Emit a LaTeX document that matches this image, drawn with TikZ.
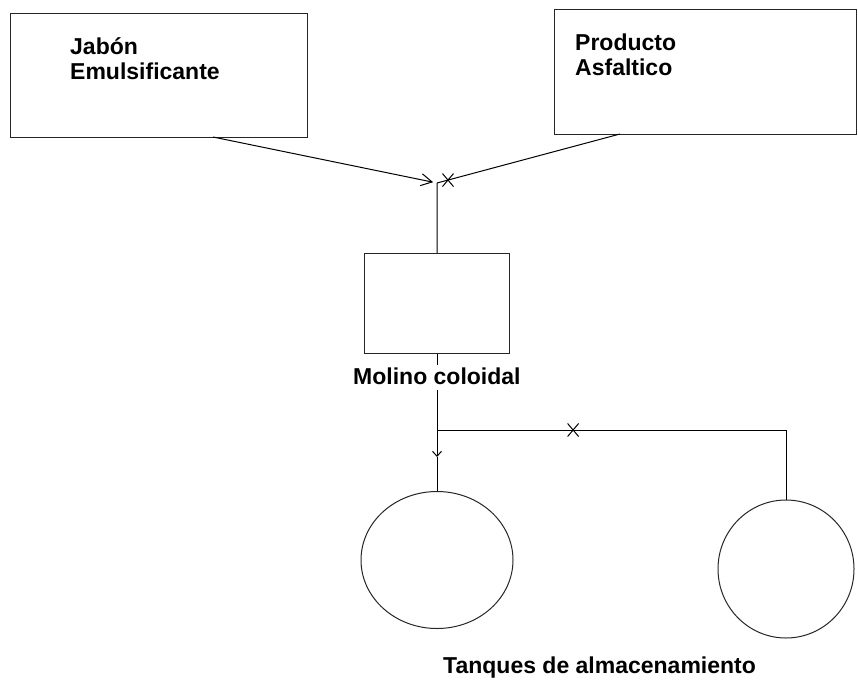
\documentclass[tikz,border=0pt]{standalone}
\usepackage{fontspec}
\setmainfont{Liberation Sans}
\usetikzlibrary{arrows.meta,shapes.misc,shapes.geometric}

\tikzset{
  caja/.style={draw=black!85, line width=1.1pt, anchor=north west},
  tanque/.style={draw=black!85, line width=1pt, ellipse},
  rotulo/.style={font=\fontsize{23}{26}\selectfont\bfseries, inner sep=0pt, align=left},
  linea/.style={line width=1pt},
  punta/.style={-{Straight Barb[length=11pt,width=12pt,line width=1pt]}},
  puntita/.style={-{Straight Barb[length=5pt,width=9pt,line width=1pt]}},
  cruz/.style={cross out, draw, line width=1pt, minimum width=10pt, minimum height=12pt, inner sep=0pt}
}

\begin{document}
\begin{tikzpicture}[x=1pt,y=-1pt]
\useasboundingbox (0,0) rectangle (858,680);

% cajas de entrada
\node[caja, minimum width=297pt, minimum height=124pt] (jabon) at (10,13) {};
\node[rotulo, anchor=base west] (jabontxt) at (70,54) {Jabón};
\node[rotulo, anchor=base west] (jabontxt2) at (70,79) {Emulsificante};
\node[caja, minimum width=302pt, minimum height=125pt] (asfalto) at (554,9) {};
\node[rotulo, anchor=base west] (asfaltotxt) at (575,50) {Producto};
\node[rotulo, anchor=base west] (asfaltotxt2) at (575,75) {Asfaltico};

% molino
\node[caja, minimum width=145pt, minimum height=100pt] (molino) at (364,253) {};
\node[rotulo, anchor=base west] (molinotxt) at (353,384) {Molino coloidal};

% tanques
\node[tanque, minimum width=152pt, minimum height=137pt] (tanque1) at (437,560) {};
\node[tanque, minimum width=136pt, minimum height=138pt] (tanque2) at (786,569) {};
\node[rotulo, anchor=base west] (tanquestxt) at (443,673) {Tanques de almacenamiento};

% puntos de paso
\coordinate (jsal) at (213,137);
\coordinate (asal) at (620,134);
\coordinate (mezcla) at (437,183);
\coordinate (bajada) at (437,390);
\coordinate (reparto) at (437,430);
\coordinate (flecha) at (437,457);
\coordinate (codo) at (786,430);

% conexiones
\draw[linea, punta, shorten >=4pt] (jsal) -- (mezcla);
\draw[linea] (asal) -- (mezcla) node[cruz, pos=0.94] (cruz1) {};
\draw[linea] (mezcla) -- (molino.north);
\draw[linea] (molino.south) -- ++(0,11);
\draw[linea] (bajada) -- (reparto);
\draw[linea, puntita] (reparto) -- (flecha);
\draw[linea] (flecha) -- (tanque1.north);
\draw[linea] (reparto) -- (codo) node[cruz, pos=0.39] (cruz2) {} -- (tanque2.north);
\end{tikzpicture}
\end{document}
